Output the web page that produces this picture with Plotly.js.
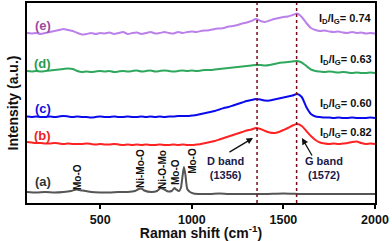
<!DOCTYPE html>
<html><head><meta charset="utf-8">
<script src="https://cdn.plot.ly/plotly-3.0.1.min.js"></script>
<style>body{margin:0;padding:0;background:#fff}#chart{width:392px;height:241px}</style>
</head><body><div id="chart"></div>
<script>
// Raman shift (cm^-1) grid used by curves (b)-(e)
const shiftGrid = [100,125,150,175,200,225,250,275,300,325,350,375,400,425,450,475,500,525,550,575,600,625,650,675,700,725,750,775,800,825,850,875,900,925,950,975,1000,1025,1050,1075,1100,1125,1150,1175,1200,1225,1250,1275,1300,1325,1350,1375,1400,1425,1450,1475,1500,1525,1550,1575,1600,1625,1650,1675,1700,1725,1750,1775,1800,1825,1850,1875,1900,1925,1950,1975,2000];
const seriesE = [170,169.5,170,169,170,171,172,173,174,173,172,170,168.5,169,170,169,170,169.5,170.5,169,170,171,169,170,170.5,169,170,171,169.5,170,171,170,169.5,171,170,171,171.5,171,172,172.5,173,174,174.5,175,176.5,177,178,179.5,180.5,182,184,182,181,182.5,184,185,186,186.5,188,189.5,186,180,175,173,172,172.5,171.5,171,171.5,170.5,170,171,170,170.5,169.5,170,169.5];
const seriesD = [132,131.5,132,131.5,132,132.5,133,133.5,134,134.5,134,132,131,131.5,131,131.5,132,131.5,132,131,131.5,132,131.5,132,132.5,131.5,132,132.5,131.5,132,132.5,132,131.5,132,132.5,132,132.5,132,132.5,133,133,133.5,134,134.5,135,135.5,136,136.5,137,137.5,138,138,137.5,138,139,140,140.5,141,141.5,142,140.5,137,133.5,132,131.5,131,131.5,131,130.5,131,130.5,130,130.5,130,130,130.5,130];
const seriesC = [86.5,86,86.5,86,86,86.5,86,86.5,87,86.5,86,86.5,86,86,85.5,86,86.5,86,86,86.5,86,86,86.5,86,86,86.5,86,86.5,86,86.5,86,86.5,86.5,87,87,87,87.5,88,89,90,91,92,93.5,95,96,97.5,99,100.5,102,103,104,103.5,102.5,102.5,103.5,104.5,105.5,106.5,107.5,109,106,96,89,86.5,86,85.5,85.5,85,85.5,85,85,85.5,85,85,85,85.5,85];
const seriesB = [61,60.5,60,60,59.5,59.5,60,59.5,59,59.5,59,59,59,59.5,59,58.5,59,58.5,58.5,59,58.5,58,58.5,58,58.5,58,58.5,58,58,58.5,58,58,58.5,58,58.5,58,58,58.5,59,60,61,62,63.5,65,66.5,68,69.5,71,72.5,73.5,75,74,72,70.5,70,71,73,75,77.5,79,77,72,67,63,60.5,59.5,59,59.5,59,59.5,60,61,61.5,60,59,59.5,59];
// curve (a) needs its own, finer grid around the Mo-O peaks
const shiftA = [100,150,200,250,300,340,370,400,450,500,550,600,650,690,710,725,740,780,810,830,845,870,890,905,915,930,940,950,957,965,975,990,1010,1050,1100,1150,1200,1300,1400,1500,1600,1700,1800,1900,2000];
const seriesA = [11,10.5,11,10.5,11,12,13.5,12.5,11,10.5,10.5,11,11,12,14,14.5,12.5,11,12,15,14,11.5,12,15,13.5,12,15,28,36,28,14,11,9.5,9,9,9.5,9,9,9,9.5,9,9,9,9,9];
const seriesLabels = ['(a)','(b)','(c)','(d)','(e)'];
const ratioLabels = ['0.82','0.60','0.63','0.74'];
const bandPositions = [1356, 1572];
const peakLabels = ['Mo-O','Ni-Mo-O','Ni-O-Mo','Mo-O','Mo-O'];
const peakShifts = [373, 717, 837, 908, 1000];

const cols = {a:'#555555', b:'#ff2222', c:'#0a0aee', d:'#2fa85e', e:'#bb80ea'};
const lblCols = {a:'#333333', b:'#ee2222', c:'#1010dd', d:'#2a9a50', e:'#a04a9e'};
const traces = [
  {x:shiftA, y:seriesA, color:cols.a},
  {x:shiftGrid, y:seriesB, color:cols.b},
  {x:shiftGrid, y:seriesC, color:cols.c},
  {x:shiftGrid, y:seriesD, color:cols.d},
  {x:shiftGrid, y:seriesE, color:cols.e}
].map(t => ({x:t.x, y:t.y, type:'scatter', mode:'lines', line:{color:t.color, width:2, shape:'spline', smoothing:0.6}, hoverinfo:'skip', showlegend:false}));

const bold = {family:'Liberation Sans, Arial, sans-serif', weight:'bold', color:'#111'};
const ann = [];
const lblY = [22, 68, 95, 140, 178];
const lblC = [lblCols.a, lblCols.b, lblCols.c, lblCols.d, lblCols.e];
seriesLabels.forEach((s,i)=>ann.push({x:185, y:lblY[i], text:s, showarrow:false, font:Object.assign({}, bold, {size:13, color:lblC[i]})}));
const ratioY = [70, 99, 143, 184];
ratioLabels.forEach((r,i)=>ann.push({x:1992, y:ratioY[i], xanchor:'right', text:'I<sub>D</sub>/I<sub>G</sub>= '+r, showarrow:false, font:Object.assign({}, bold, {size:11})}));
const peakY = [26, 34, 34, 31, 42];
peakLabels.forEach((p,i)=>ann.push({x:peakShifts[i], y:peakY[i], text:p, textangle:-90, showarrow:false, font:Object.assign({}, bold, {size:10})}));
ann.push({x:1186, y:35, text:'D band<br>(1356)', showarrow:false, font:Object.assign({}, bold, {size:11, color:'#1a1a4a'})});
ann.push({x:1722, y:35, text:'G band<br>(1572)', showarrow:false, font:Object.assign({}, bold, {size:11, color:'#1a1a4a'})});
ann.push({x:1334, y:65, ax:1197, ay:50, axref:'x', ayref:'y', text:'', showarrow:true, arrowhead:2, arrowsize:1, arrowwidth:1.3, arrowcolor:'#111'});
ann.push({x:1601, y:65, ax:1661, ay:46, axref:'x', ayref:'y', text:'', showarrow:true, arrowhead:2, arrowsize:1, arrowwidth:1.3, arrowcolor:'#111'});

const shapes = bandPositions.map(b=>({type:'line', xref:'x', yref:'paper', x0:b, x1:b, y0:0, y1:1, line:{color:'#7a0a1a', width:1.5, dash:'dot'}}));

const layout = {
  width:392, height:241,
  margin:{l:27, r:17, t:3, b:38},
  paper_bgcolor:'#fff', plot_bgcolor:'#fff',
  xaxis:{range:[100,2000], tickvals:[500,1000,1500,2000], ticks:'outside', ticklen:4, tickwidth:2, tickcolor:'#000',
    ticklabelstandoff:0,
    showline:true, mirror:true, linewidth:2, linecolor:'#000', showgrid:false, zeroline:false,
    tickfont:Object.assign({}, bold, {size:12.5}),
    title:{text:'Raman shift (cm<sup>-1</sup>)', font:Object.assign({}, bold, {size:14}), standoff:6}},
  yaxis:{range:[0,200], showticklabels:false, ticks:'', showline:true, mirror:true, linewidth:2, linecolor:'#000', showgrid:false, zeroline:false,
    title:{text:'Intensity (a.u.)', font:Object.assign({}, bold, {size:14}), standoff:3}},
  annotations:ann, shapes:shapes
};
Plotly.newPlot('chart', traces, layout, {staticPlot:true, displayModeBar:false});
</script></body></html>
